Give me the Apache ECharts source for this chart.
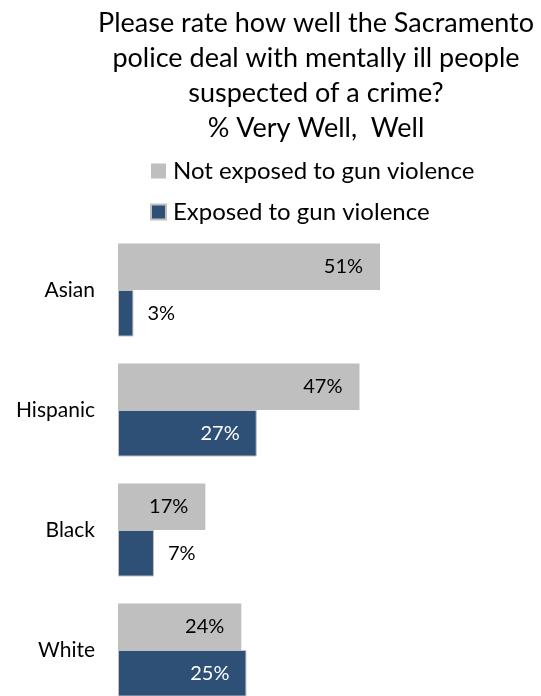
<!DOCTYPE html>
<html>
<head>
<meta charset="utf-8">
<script src="https://cdn.jsdelivr.net/npm/echarts@6/dist/echarts.min.js"></script>
<style>html,body{margin:0;padding:0;background:#fff;overflow:hidden;}#c{width:541px;height:710px;}</style>
</head>
<body>
<div id="c"></div>
<script>
const titleText = "Please rate how well the Sacramento\npolice deal with mentally ill people\nsuspected of a crime?\n% Very Well,  Well";
const categories = ["Asian", "Hispanic", "Black", "White"];
const notExposed = [51, 47, 17, 24];
const exposed = [3, 27, 7, 25];
const seriesNames = ["Not exposed to gun violence", "Exposed to gun violence"];

const FONT = "Lato";
const chart = echarts.init(document.getElementById('c'));
chart.setOption({
  animation: false,
  backgroundColor: '#fff',
  title: {
    text: titleText,
    left: 311, textAlign: 'center', top: 1,
    textStyle: { fontFamily: FONT, fontSize: 27, fontWeight: 'normal', color: '#000', lineHeight: 35 }
  },
  legend: {
    orient: 'vertical', left: 145, top: 154,
    itemWidth: 15, itemHeight: 15, itemGap: 17, icon: 'rect',
    textStyle: { fontFamily: FONT, fontSize: 24, color: '#000', padding: [0,0,0,2] },
    data: seriesNames
  },
  grid: { left: 118, top: 230, right: 12, bottom: 0, containLabel: false },
  xAxis: { type: 'value', min: 0, max: 80, show: false },
  yAxis: {
    type: 'category', inverse: true, data: categories,
    axisLine: { show: false }, axisTick: { show: false },
    axisLabel: { fontFamily: FONT, fontSize: 21, color: '#000', margin: 23 }
  },
  series: [
    {
      name: seriesNames[0], type: 'bar', data: notExposed,
      barGap: '0%', barCategoryGap: '22.5%',
      itemStyle: { color: '#BFBFBF' },
      label: { show: true, position: 'insideRight', formatter: '{c}%', fontFamily: FONT, fontSize: 20, color: '#000', distance: 17 }
    },
    {
      name: seriesNames[1], type: 'bar', data: exposed.map(v => ({
        value: v,
        label: v < 15 ? { position: 'right', color: '#000', distance: 14 } : { position: 'insideRight', color: '#fff', distance: 17 }
      })),
      itemStyle: { color: '#2E5077', borderColor: '#BFBFBF', borderWidth: 1 },
      label: { show: true, formatter: '{c}%', fontFamily: FONT, fontSize: 20 }
    }
  ]
});
</script>
</body>
</html>
